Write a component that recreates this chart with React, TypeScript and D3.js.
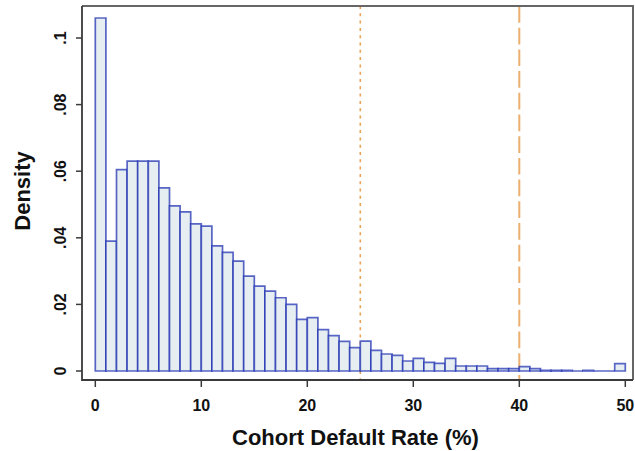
import React from "react";
import * as d3 from "d3";

// Histogram of cohort default rates, bin width = 1 percentage point (0..50)
const binStarts: number[] = Array.from({ length: 50 }, (_, i) => i);
const densities: number[] = [
  0.106, 0.039, 0.0605, 0.063, 0.063, 0.063, 0.055, 0.0496, 0.0478, 0.0442,
  0.0435, 0.0376, 0.0356, 0.033, 0.0285, 0.0255, 0.024, 0.022, 0.02, 0.0155,
  0.016, 0.0124, 0.0106, 0.0089, 0.007, 0.009, 0.0062, 0.0051, 0.0047, 0.003,
  0.0038, 0.0026, 0.0023, 0.0038, 0.0015, 0.0015, 0.0015, 0.0007, 0.0007, 0.0007,
  0.0013, 0.0007, 0.0002, 0.0002, 0.0002, 0, 0.0002, 0, 0, 0.0022,
];
const binWidth = 1;
const xTicks: number[] = [0, 10, 20, 30, 40, 50];
const yTicks: number[] = [0, 0.02, 0.04, 0.06, 0.08, 0.1];
const yTickLabels: string[] = ["0", ".02", ".04", ".06", ".08", ".1"];
const refLines: { value: number; style: "dotted" | "dashed" }[] = [
  { value: 25, style: "dotted" },
  { value: 40, style: "dashed" },
];
const xTitle = "Cohort Default Rate (%)";
const yTitle = "Density";

const W = 635;
const H = 451;
const frame = { left: 82, top: 6, right: 633, bottom: 380 };

export default function App() {
  const x = d3.scaleLinear().domain([0, 50]).range([95.3, 625.3]);
  const y = d3.scaleLinear().domain([0, 0.1]).range([371, 38]);
  const font = "'Liberation Sans', Arial, Helvetica, sans-serif";
  const orange = "#e9a257";

  const barPath = (start: number, v: number) => {
    const p = d3.path();
    p.moveTo(x(start), y(0));
    p.lineTo(x(start), y(v));
    p.lineTo(x(start + binWidth), y(v));
    p.lineTo(x(start + binWidth), y(0));
    p.closePath();
    return p.toString();
  };

  return (
    <svg
      width={W}
      height={H}
      style={{ position: "absolute", left: 0, top: 0, background: "#fff" }}
    >
      <rect x={0} y={0} width={W} height={H} fill="#fff" />
      {/* reference lines */}
      {refLines.map((r) => (
        <line
          key={r.value}
          x1={x(r.value)}
          x2={x(r.value)}
          y1={frame.top}
          y2={frame.bottom}
          stroke={orange}
          strokeWidth={r.style === "dotted" ? 1.6 : 2}
          strokeDasharray={r.style === "dotted" ? "3,4.3" : "16.7,5"}
          opacity={r.style === "dotted" ? 1 : 0.85}
        />
      ))}
      {/* bars */}
      <g>
        {binStarts.map((s, i) => (
          <path
            key={s}
            d={barPath(s, densities[i])}
            fill="#e6eef1"
            stroke="#1a2cb0"
            strokeOpacity={0.72}
            strokeWidth={1.7}
          />
        ))}
      </g>
      {/* frame */}
      <path
        d={`M${frame.left},${frame.top}H${frame.right}V${frame.bottom}`}
        fill="none"
        stroke="#666"
        strokeWidth={2}
      />
      <path
        d={`M${frame.left},${frame.top}V${frame.bottom}H${frame.right}`}
        fill="none"
        stroke="#3a3a3a"
        strokeWidth={1.8}
      />
      {/* y ticks */}
      {yTicks.map((t, i) => (
        <g key={t}>
          <line
            x1={frame.left - 6}
            x2={frame.left}
            y1={y(t)}
            y2={y(t)}
            stroke="#3a3a3a"
            strokeWidth={1.5}
          />
          <text
            transform={`translate(66,${y(t)}) rotate(-90)`}
            textAnchor="middle"
            fontFamily={font}
            fontWeight="bold"
            fontSize={16}
            fill="#111"
          >
            {yTickLabels[i]}
          </text>
        </g>
      ))}
      {/* x ticks */}
      {xTicks.map((t) => (
        <g key={t}>
          <line
            x1={x(t)}
            x2={x(t)}
            y1={frame.bottom}
            y2={frame.bottom + 7}
            stroke="#3a3a3a"
            strokeWidth={1.5}
          />
          <text
            x={x(t)}
            y={411}
            textAnchor="middle"
            fontFamily={font}
            fontWeight="bold"
            fontSize={16}
            fill="#111"
          >
            {t}
          </text>
        </g>
      ))}
      <text
        x={355.5}
        y={445}
        textAnchor="middle"
        fontFamily={font}
        fontWeight="bold"
        fontSize={22}
        fill="#111"
      >
        {xTitle}
      </text>
      <text
        transform={`translate(30,191) rotate(-90)`}
        textAnchor="middle"
        fontFamily={font}
        fontWeight="bold"
        fontSize={22}
        fill="#111"
      >
        {yTitle}
      </text>
    </svg>
  );
}
